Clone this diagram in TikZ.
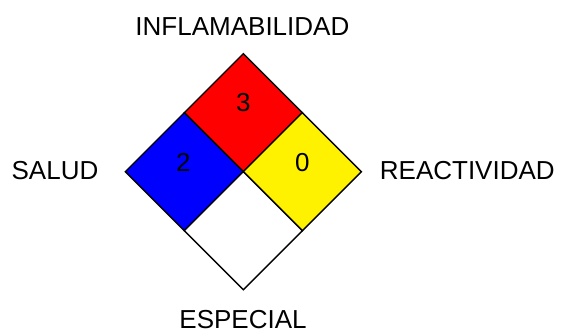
\documentclass[tikz,border=0pt]{standalone}
\usepackage{fontspec}
\setmainfont{Liberation Sans}
\begin{document}
\begin{tikzpicture}[x=1pt,y=-1pt,
  cell/.style={draw=black,line width=1.4pt,line join=miter},
  lbl/.style={anchor=base,inner sep=0pt,font=\fontsize{26}{30}\selectfont},
  num/.style={anchor=base,inner sep=0pt,font=\fontsize{26}{30}\selectfont}]
\useasboundingbox (0,0) rectangle (561,332);
\def\h{59}
\coordinate (C) at (243.3,171.7);
% top (red)
\filldraw[cell,fill=red] (C) -- ++(-\h,-\h) -- ++(\h,-\h) -- ++(\h,\h) -- cycle;
% left (blue)
\filldraw[cell,fill=blue] (C) -- ++(-\h,-\h) -- ++(-\h,\h) -- ++(\h,\h) -- cycle;
% right (yellow)
\filldraw[cell,fill=yellow] (C) -- ++(\h,-\h) -- ++(\h,\h) -- ++(-\h,\h) -- cycle;
% bottom (white)
\filldraw[cell,fill=white] (C) -- ++(-\h,\h) -- ++(\h,\h) -- ++(\h,-\h) -- cycle;
\node[num] (n3) at (243.3,111.7) {3};
\node[num] (n2) at (183.3,171.7) {2};
\node[num] (n0) at (302.3,171.7) {0};
\node[lbl] (inf) at (242.4,35.8) {INFLAMABILIDAD};
\node[lbl] (sal) at (55,179.3) {SALUD};
\node[lbl] (rea) at (467.3,179.2) {REACTIVIDAD};
\node[lbl] (esp) at (243,328.3) {ESPECIAL};
\end{tikzpicture}
\end{document}
